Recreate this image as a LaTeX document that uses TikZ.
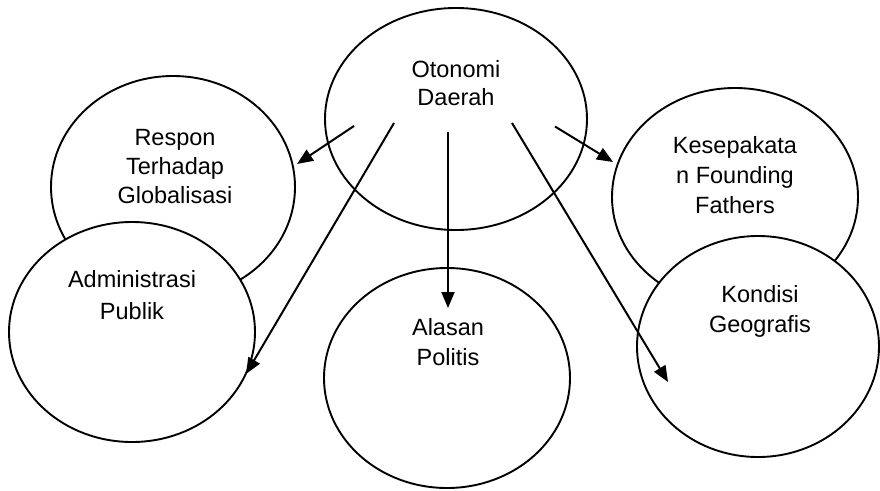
\documentclass[tikz,border=0pt]{standalone}
\usepackage{fontspec}
\setmainfont{Liberation Sans}
\usetikzlibrary{arrows.meta,shapes.geometric}

% centred lines whose baseline is the baseline of the first line
\newcommand{\stacklines}[1]{\begin{tabular}[t]{@{}c@{}}#1\end{tabular}}

\begin{document}
\begin{tikzpicture}[x=1pt,y=-1pt,
  bubble/.style={ellipse, draw, line width=1.9pt, inner sep=0pt, fill=white},
  bubbletext/.style={anchor=base, inner sep=0pt, font=\fontsize{23.5}{#1}\selectfont},
  bubbletext/.default=30,
  link/.style={line width=2pt, -{Triangle[length=16pt,width=13pt]}}]

\path[use as bounding box, fill=white] (0,0) rectangle (880,490);

% outer ring of topics (lower ones overlap the upper ones)
\node[bubble, minimum width=244pt, minimum height=222pt] (rg) at (173,187) {};
\node[bubble, minimum width=246pt, minimum height=220pt] (ap) at (132,332) {};
\node[bubble, minimum width=246pt, minimum height=218pt] (kf) at (735,197) {};
\node[bubble, minimum width=242pt, minimum height=221pt] (kg) at (758,346.5) {};
\node[bubble, minimum width=246pt, minimum height=220pt] (ps) at (447,378) {};
% central topic
\node[bubble, minimum width=262pt, minimum height=222pt] (od) at (456,119) {};

% captions
\node[bubbletext=28.5] (od-t) at (456,77)  {\stacklines{Otonomi\\Daerah}};
\node[bubbletext=29]   (rg-t) at (175,145) {\stacklines{Respon\\Terhadap\\Globalisasi}};
\node[bubbletext]      (kf-t) at (735,153) {\stacklines{Kesepakata\\n Founding\\Fathers}};
\node[bubbletext=32]   (ap-t) at (132,287) {\stacklines{Administrasi\\Publik}};
\node[bubbletext]      (ps-t) at (448,335) {\stacklines{Alasan\\Politis}};
\node[bubbletext]      (kg-t) at (760,302) {\stacklines{Kondisi\\Geografis}};

% arrow ends
\coordinate (od-rg) at (354,126);   \coordinate (rg-in) at (297,164);
\coordinate (od-ap) at (394,123);   \coordinate (ap-in) at (246,374);
\coordinate (od-ps) at (448,132);   \coordinate (ps-in) at (448,308);
\coordinate (od-kg) at (512,123);   \coordinate (kg-in) at (668,382);
\coordinate (od-kf) at (555,126.5); \coordinate (kf-in) at (613,162);

\draw[link] (od-rg) -- (rg-in);
\draw[link] (od-ap) -- (ap-in);
\draw[link] (od-ps) -- (ps-in);
\draw[link] (od-kg) -- (kg-in);
\draw[link] (od-kf) -- (kf-in);
\end{tikzpicture}
\end{document}
